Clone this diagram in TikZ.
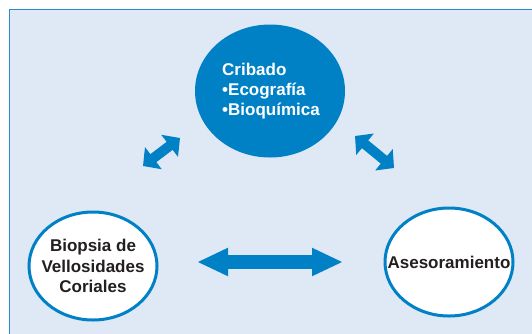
\documentclass[tikz,border=0pt]{standalone}
\usepackage{fontspec}
\setmainfont{Liberation Sans}
\usetikzlibrary{shapes.geometric,arrows.meta}
\definecolor{panelfill}{HTML}{DFE8F5}
\definecolor{framecol}{HTML}{2A8BD3}
\definecolor{mainblue}{HTML}{0081C6}
\definecolor{textcol}{HTML}{231F20}
\tikzset{
  stage/.style={ellipse, draw=mainblue, line width=3pt, fill=white, inner sep=0pt,
    minimum width=128pt, minimum height=108pt},
  stagetext/.style={align=center, text=textcol, inner sep=0pt,
    font=\bfseries\fontsize{17}{20.5}\selectfont},
  wide/.style={draw=mainblue, line width=14pt,
    {Triangle[length=31pt,width=26pt]}-{Triangle[length=31pt,width=26pt]}},
  tilt/.style={draw=mainblue, line width=10pt,
    {Triangle[length=13pt,width=27pt]}-{Triangle[length=13pt,width=27pt]}},
}
\begin{document}
\begin{tikzpicture}[x=1pt,y=-1pt]
\useasboundingbox (0,0) rectangle (532,333);
\clip (0,0) rectangle (532,333);
\fill[panelfill] (9,9) rectangle (545,345);
\draw[framecol, line width=1.5pt] (9.5,345) -- (9.5,9.5) -- (545,9.5);
% top circle
\node[ellipse, fill=mainblue, inner sep=0pt, minimum width=150pt, minimum height=133pt] (cribado) at (270,91) {};
\node[align=left, text=white, inner sep=0pt, font=\bfseries\fontsize{17}{20}\selectfont] (cribadotext) at (271,91)
  {Cribado\\•Ecografía\\•Bioquímica};
% bottom circles
\node[stage] (biopsia) at (93,266) {};
\node[stagetext] (biopsiatext) at (biopsia.center) {Biopsia de\\Vellosidades\\Coriales};
\node[stage] (asesor) at (449,262) {};
\node[stagetext] (asesortext) at (asesor.center) {Asesoramiento};
% arrows
\coordinate (hl) at (197,262);
\coordinate (hr) at (343,262);
\coordinate (ll) at (143,166);
\coordinate (lr) at (180,138);
\coordinate (rl) at (355,136);
\coordinate (rr) at (394,168);
\draw[wide] (hl) -- (hr);
\draw[tilt] (ll) -- (lr);
\draw[tilt] (rl) -- (rr);
\end{tikzpicture}
\end{document}
